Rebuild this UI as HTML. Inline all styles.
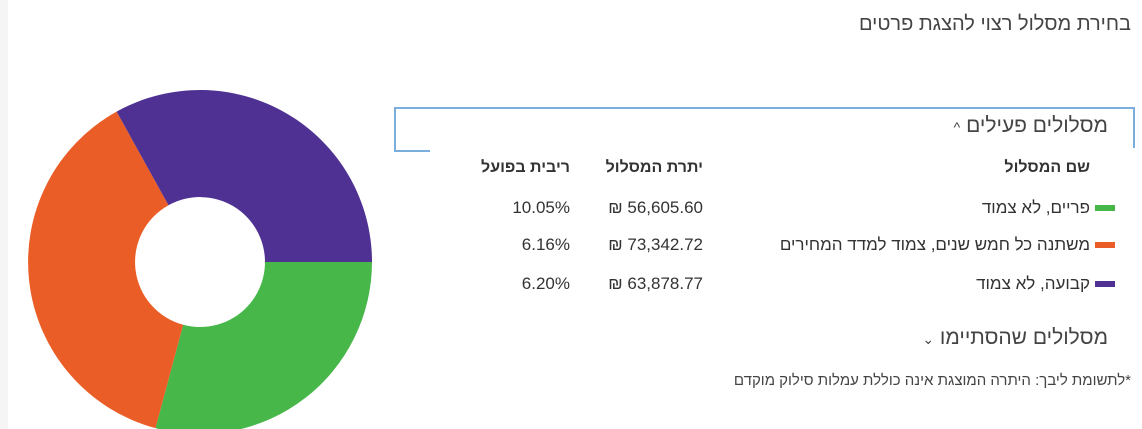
<!DOCTYPE html>
<html><head><meta charset="utf-8"><style>
body{margin:0;width:1142px;height:429px;overflow:hidden;background:#fff;font-family:"Liberation Sans","Noto Sans CJK SC",sans-serif;color:#333;position:relative}
.t{position:absolute;direction:rtl;white-space:nowrap;line-height:1}
.sw{position:absolute;width:20px;height:6px}
</style></head><body>
<div style="position:absolute;left:0;top:0;width:8px;height:429px;background:#f5f5f5"></div>
<svg style="position:absolute;left:0;top:0" width="1142" height="429">
<path d="M372 262 A172 172 0 0 1 155.5 428.1 L183.2 324.8 A65 65 0 0 0 265 262Z" fill="#47b749"/>
<path d="M155.5 428.1 A172 172 0 0 1 116.6 111.6 L168.5 205.2 A65 65 0 0 0 183.2 324.8Z" fill="#ea5d27"/>
<path d="M116.6 111.6 A172 172 0 0 1 372 262 L265 262 A65 65 0 0 0 168.5 205.2Z" fill="#4e3193"/>
<polyline points="430,151 395,151 395,108 1134,108 1134,148" fill="none" stroke="#7aaedc" stroke-width="2"/>
</svg>
<div class="t" style="right:11px;top:14px;font-size:20px;color:#444">בחירת מסלול רצוי להצגת פרטים</div>
<div class="t" style="right:34px;top:115px;font-size:21px;color:#444">מסלולים פעילים <span style="font-size:14px">^</span></div>
<div class="t" style="right:52px;top:160px;font-size:16px;font-weight:bold">שם המסלול</div>
<div class="t" style="right:439px;top:160px;font-size:16px;font-weight:bold">יתרת המסלול</div>
<div class="t" style="right:572px;top:160px;font-size:16px;font-weight:bold">ריבית בפועל</div>
<div class="sw" style="left:1095px;top:205px;background:#47b749"></div>
<div class="sw" style="left:1095px;top:242px;background:#ea5d27"></div>
<div class="sw" style="left:1095px;top:281px;background:#4e3193"></div>
<div class="t" style="right:52px;top:199px;font-size:17px">פריים, לא צמוד</div>
<div class="t" style="right:52px;top:236px;font-size:17px">משתנה כל חמש שנים, צמוד למדד המחירים</div>
<div class="t" style="right:52px;top:275px;font-size:17px">קבועה, לא צמוד</div>
<div class="t" style="right:439px;top:199px;font-size:17px;direction:ltr">₪ 56,605.60</div>
<div class="t" style="right:439px;top:236px;font-size:17px;direction:ltr">₪ 73,342.72</div>
<div class="t" style="right:439px;top:275px;font-size:17px;direction:ltr">₪ 63,878.77</div>
<div class="t" style="right:572px;top:199px;font-size:17px;direction:ltr">10.05%</div>
<div class="t" style="right:572px;top:236px;font-size:17px;direction:ltr">6.16%</div>
<div class="t" style="right:572px;top:275px;font-size:17px;direction:ltr">6.20%</div>
<div class="t" style="right:34px;top:327px;font-size:21px;color:#444">מסלולים שהסתיימו <span style="font-size:14px">⌄</span></div>
<div class="t" style="right:11px;top:373px;font-size:15px;color:#444">*לתשומת ליבך: היתרה המוצגת אינה כוללת עמלות סילוק מוקדם</div>
</body></html>
